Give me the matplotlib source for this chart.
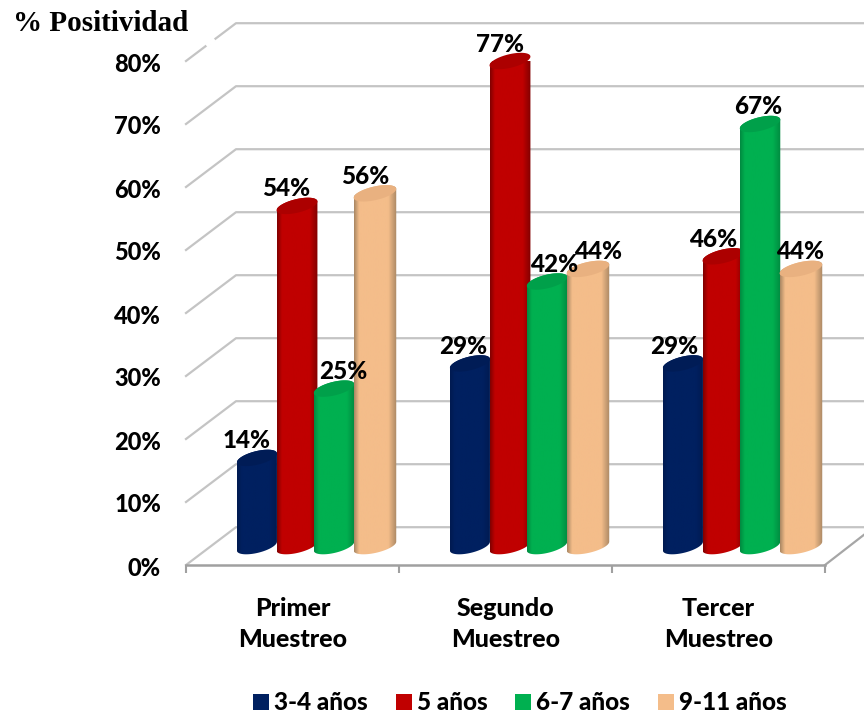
#!/usr/bin/env python3

"""
Grouped pseudo-3D cylinder chart of positivity by age group and sampling round.
"""

import numpy as np
import matplotlib
matplotlib.use("Agg")
import matplotlib.pyplot as plt
from matplotlib.colors import LinearSegmentedColormap
from matplotlib.patches import Patch, Polygon
from matplotlib.transforms import ScaledTranslation

categories = ["Primer\nMuestreo", "Segundo\nMuestreo", "Tercer\nMuestreo"]
age_groups = ["3-4 años", "5 años", "6-7 años", "9-11 años"]
values_3_4 = [14, 29, 29]
values_5 = [54, 77, 46]
values_6_7 = [25, 42, 67]
values_9_11 = [56, 44, 44]
y_ticks = [0, 10, 20, 30, 40, 50, 60, 70, 80]

# edge, body and cap colours for each cylinder
colors = ["#002060", "#c00000", "#00b050", "#f4bd8a"]
edge_colors = ["#001a50", "#800000", "#008a40", "#a98763"]
cap_colors = ["#001c56", "#ac0000", "#00a04a", "#e9b180"]

# position of each cylinder centre and width inside a category, in category units
bar_offsets = [0.333, 0.521, 0.695, 0.887]
bar_widths = [0.188, 0.192, 0.19, 0.2]

# horizontal nudge of the value labels, in pixels
label_nudge = [
    [-10, -7, -9],
    [-11, -10, -10],
    [9, 7, -2],
    [-10, 10, -1],
]

DEPTH_X = 50 / 213   # back wall shift in category units
DEPTH_Y = 6.0        # back wall shift in percent
CAP_TILT = 0.7
CAP_MINOR = 1.1
GRID = "#c4c4c4"
FONT = "Lato"
WEIGHT = 900


def cylinder(ax, cx, width, value, i):
    """Draw one cylinder standing halfway between the front edge and the back wall."""
    y0 = DEPTH_Y / 2
    half = width / 2
    z = 3 + i * 0.1

    t = np.linspace(np.pi, 2 * np.pi, 40)
    low_x = cx + half * np.cos(t)
    low_y = y0 + CAP_TILT * np.cos(t) + CAP_MINOR * np.sin(t)
    t = np.linspace(0, np.pi, 40)
    top_x = cx + half * np.cos(t)
    top_y = y0 + value + CAP_TILT * np.cos(t) + CAP_MINOR * np.sin(t)
    body = Polygon(np.column_stack([np.r_[low_x, top_x], np.r_[low_y, top_y]]),
                   closed=True, facecolor="none", edgecolor="none", zorder=z, clip_on=False)
    ax.add_patch(body)

    # horizontal shading across the body
    cmap = LinearSegmentedColormap.from_list(
        "body", [(0, edge_colors[i]), (0.12, colors[i]), (0.8, colors[i]), (1, edge_colors[i])])
    shade = np.linspace(0, 1, 128).reshape(1, -1)
    img = ax.imshow(shade, cmap=cmap, aspect="auto", zorder=z,
                    extent=[cx - half, cx + half, -2, y0 + value + 3])
    img.set_clip_path(body)

    t = np.linspace(0, 2 * np.pi, 80)
    cap_x = cx + half * np.cos(t)
    cap_y = y0 + value + CAP_TILT * np.cos(t) + CAP_MINOR * np.sin(t)
    ax.add_patch(Polygon(np.column_stack([cap_x, cap_y]), closed=True, clip_on=False,
                         facecolor=cap_colors[i], edgecolor="none", zorder=z))
    return cx, y0 + value


def main():
    fig = plt.figure(figsize=(8.64, 7.15), dpi=100)
    ax = fig.add_axes([186 / 864, 150 / 715, 639 / 864, 504 / 715])
    series = [values_3_4, values_5, values_6_7, values_9_11]

    # side wall and back wall gridlines
    right_edge = (864 - 186) / 213
    for v in y_ticks:
        ax.plot([0, DEPTH_X, right_edge], [v, v + DEPTH_Y, v + DEPTH_Y],
                color=GRID, lw=1.6, clip_on=False, zorder=1)
    # floor edge on the right
    ax.plot([3, right_edge], [0, 4.8], color="#a6a6a6", lw=1.6, clip_on=False, zorder=1)
    # the title box cuts a short piece out of the top side wall line
    ax.plot([0.44 * DEPTH_X, 0.54 * DEPTH_X], [80 + 0.44 * DEPTH_Y, 80 + 0.54 * DEPTH_Y],
            color="white", lw=3, clip_on=False, zorder=2)

    for i, vals in enumerate(series):
        for j, v in enumerate(vals):
            x, y = cylinder(ax, j + bar_offsets[i], bar_widths[i], v, i)
            ax.annotate(f"{v}%", (x, y), xytext=(label_nudge[i][j], 17),
                        textcoords="offset pixels", ha="center", va="center",
                        fontsize=17.5, fontweight=WEIGHT, family=FONT, color="black", zorder=6)

    ax.set_xlim(0, 3)
    ax.set_ylim(0, 80)
    for side in ["top", "left", "right"]:
        ax.spines[side].set_visible(False)
    ax.spines["bottom"].set_color("#a0a0a0")
    ax.spines["bottom"].set_linewidth(1.8)
    ax.patch.set_alpha(0)

    ax.set_xticks([0, 1, 2, 3])
    ax.set_xticklabels([])
    ax.tick_params(axis="x", which="major", length=6, width=1.5, color="#a0a0a0")
    ax.set_xticks([0.5, 1.5, 2.5], minor=True)
    ax.set_xticklabels(categories, minor=True, fontsize=18, fontweight=WEIGHT,
                       family=FONT, linespacing=1.4)
    ax.tick_params(axis="x", which="minor", length=0, pad=23)

    ax.set_yticks(y_ticks)
    ax.set_yticklabels([f"{v}%" for v in y_ticks], fontsize=17, fontweight=WEIGHT, family=FONT)
    ax.tick_params(axis="y", length=0, pad=18)
    shift_down = ScaledTranslation(0, -1 / 100, fig.dpi_scale_trans)
    for label in ax.get_yticklabels():
        label.set_transform(label.get_transform() + shift_down)

    fig.text(13 / 864, 1 - 31 / 715, "% Positividad", fontsize=21, fontweight="bold",
             family="Liberation Serif", ha="left", va="baseline")

    handles = [Patch(facecolor=c, edgecolor="none") for c in colors]
    fig.legend(handles, age_groups, ncol=4, loc="center", bbox_to_anchor=(520 / 864, 1 - 703 / 715),
               frameon=False, handlelength=0.66, handleheight=0.66, handletextpad=0.2,
               columnspacing=1.15, prop={"family": FONT, "weight": WEIGHT, "size": 17.5})

    fig.savefig("out.png", dpi=100)


if __name__ == "__main__":
    main()
